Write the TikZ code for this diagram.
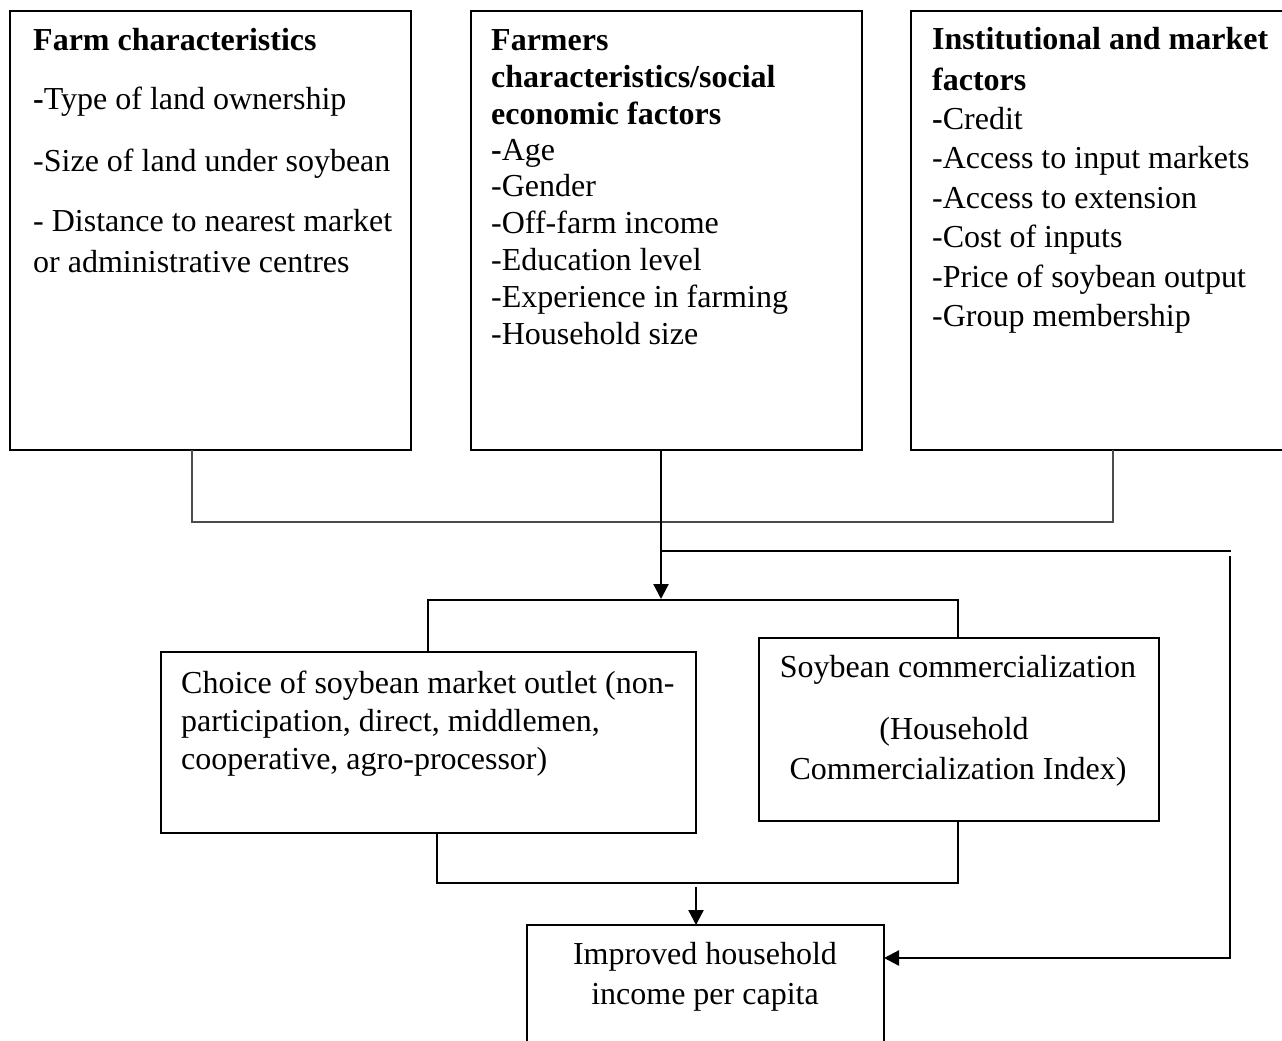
\documentclass[tikz,border=0pt]{standalone}
\usepackage{fontspec}
\setmainfont{Liberation Serif}
\usetikzlibrary{arrows.meta}
\newcommand{\fs}{\fontsize{32}{37}\selectfont}
\tikzset{
  box/.style={draw, line width=2pt, anchor=north west, inner sep=0pt, outer sep=0pt},
  tl/.style={anchor=base west, inner sep=0pt, font=\fs},
  tc/.style={anchor=base, inner sep=0pt, font=\fs},
  conn/.style={line width=2.3pt},
  thinconn/.style={line width=1.2pt, draw=black!70},
  arr/.style={-{Triangle[length=15pt,width=15pt]}},
}
\begin{document}
\begin{tikzpicture}[x=1pt,y=-1pt]
\useasboundingbox (0,0) rectangle (1282,1041);
\clip (0,0) rectangle (1282,1041);
\fill[white] (0,0) rectangle (1282,1041);

% boxes
\node[box, minimum width=401pt, minimum height=439pt] (b1) at (10,11) {};
\node[box, minimum width=391pt, minimum height=439pt] (b2) at (471,11) {};
\node[box, minimum width=400pt, minimum height=439pt] (b3) at (911,11) {};
\node[box, minimum width=535pt, minimum height=181pt] (b4) at (161,652) {};
\node[box, minimum width=400pt, minimum height=183pt] (b5) at (759,638) {};
\node[box, minimum width=357pt, minimum height=140pt] (b6) at (527,925) {};

% box 1 text
\node[tl] (t1a) at (33,51) {\textbf{Farm characteristics}};
\node[tl] (t1b) at (33,110) {\textbf{-}Type of land ownership};
\node[tl] (t1c) at (33,171) {-Size of land under soybean};
\node[tl] (t1d) at (33,231) {- Distance to nearest market};
\node[tl] (t1e) at (33,272) {or administrative centres};

% box 2 text
\node[tl] (t2a) at (491,51) {\textbf{Farmers}};
\node[tl] (t2b) at (491,88) {\textbf{characteristics/social}};
\node[tl] (t2c) at (491,124) {\textbf{economic factors}};
\node[tl] (t2d) at (491,160) {\textbf{-}Age};
\node[tl] (t2e) at (491,196) {-Gender};
\node[tl] (t2f) at (491,233) {-Off-farm income};
\node[tl] (t2g) at (491,270) {-Education level};
\node[tl] (t2h) at (491,307) {-Experience in farming};
\node[tl] (t2i) at (491,344) {-Household size};

% box 3 text
\node[tl] (t3a) at (932,50) {\textbf{Institutional and market}};
\node[tl] (t3b) at (932,90) {\textbf{factors}};
\node[tl] (t3c) at (932,129) {\textbf{-}Credit};
\node[tl] (t3d) at (932,168) {-Access to input markets};
\node[tl] (t3e) at (932,208) {-Access to extension};
\node[tl] (t3f) at (932,247) {-Cost of inputs};
\node[tl] (t3g) at (932,287) {-Price of soybean output};
\node[tl] (t3h) at (932,326) {-Group membership};

% box 4 text
\node[tl] (t4a) at (181,693) {Choice of soybean market outlet (non-};
\node[tl] (t4b) at (181,731) {participation, direct, middlemen,};
\node[tl] (t4c) at (181,769) {cooperative, agro-processor)};

% box 5 text
\node[tc] (t5a) at (958,677) {Soybean commercialization};
\node[tc] (t5b) at (954,739) {(Household};
\node[tc] (t5c) at (958,779) {Commercialization Index)};

% box 6 text
\node[tc] (t6a) at (705,964) {Improved household};
\node[tc] (t6b) at (705,1004) {income per capita};

% coordinates
\coordinate (j1) at (192,522);
\coordinate (j2) at (1113,522);
\coordinate (k0) at (661,599);
\coordinate (f0) at (661,551);
\coordinate (f1) at (1231,551);
\coordinate (f2) at (1230,556);
\coordinate (f3) at (1230,958);
\coordinate (s1) at (428,600);
\coordinate (s2) at (958,600);
\coordinate (m1) at (437,883);
\coordinate (m2) at (958,883);
\coordinate (m3) at (696,887);

% connectors
\draw[thinconn] (b1.south -| j1) -- (j1) -- (j2) -- (b3.south -| j2);
\draw[conn, arr] (b2.south -| k0) -- (k0);
\draw[line width=1.8pt] (f0) -- (f1);
\draw[conn, arr] (f2) -- (f3) -- (b6.east |- f3);
\draw[conn] (b4.north -| s1) -- (s1) -- (s2) -- (b5.north -| s2);
\draw[conn] (b4.south -| m1) -- (m1) -- (m2) -- (b5.south -| m2);
\draw[conn, arr] (m3) -- (b6.north -| m3);
\end{tikzpicture}
\end{document}
